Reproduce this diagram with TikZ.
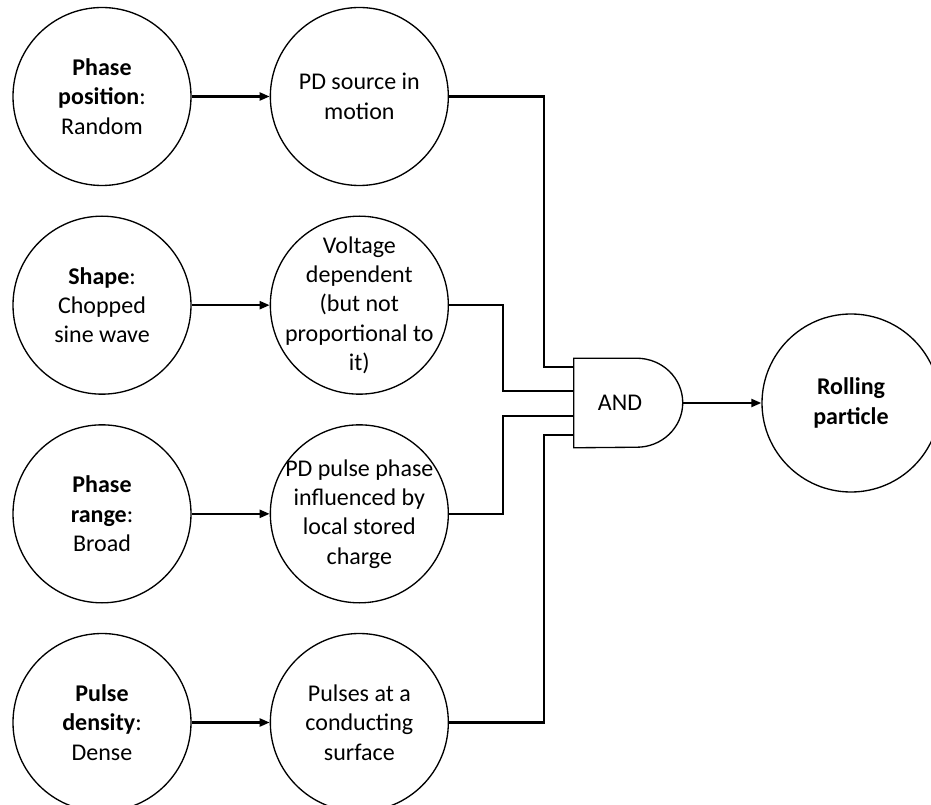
\documentclass[tikz,border=0pt]{standalone}
\usepackage{fontspec}
\setmainfont{Carlito}
\usepackage{tikz}
\usetikzlibrary{arrows.meta,positioning}
\tikzset{
    %Define standard arrow tip
    >={Triangle[length=7.5pt,width=6pt]},
    %Define style for circles
    feature/.style={
           circle,
           draw=black, line width=1pt,
           minimum size=133.5pt,
           inner sep=-20pt,
           align=center,
           font=\fontsize{18}{22}\selectfont},
    %Define style for the gate
    gatebody/.style={
           rectangle,
           minimum width=69pt,
           minimum height=66.75pt,
           inner sep=0pt,
           font=\fontsize{18}{22}\selectfont},
    gateline/.style={
           draw=black, line width=1pt},
    % Define connector styles
    wire/.style={
           line width=1.6pt},
    pil/.style={
           ->,
           line width=1.6pt}
}

\begin{document}
\begin{tikzpicture}[x=0.75pt,y=-0.75pt,node distance=22pt and 58.5pt]
\useasboundingbox (0,0) rectangle (931,805);
 %nodes
\node[feature](1) at (102,96.5){\textbf{Phase}\\\textbf{position}:\\Random};
\node[feature, below=of 1](2){\textbf{Shape}:\\Chopped\\sine wave};
\node[feature, below=of 2](3){\textbf{Phase}\\\textbf{range}:\\Broad};
\node[feature, below=of 3](4){\textbf{Pulse}\\\textbf{density}:\\Dense};
\node[feature, right=of 1](5){PD source in\\motion};
\node[feature, right=of 2](6){Voltage\\dependent\\(but not\\proportional to\\it)};
\node[feature, right=of 3](7){PD pulse phase\\influenced by\\local stored\\charge};
\node[feature, right=of 4](8){Pulses at a\\conducting\\surface};
\node[gatebody](and) at (620,403){AND};
\node[feature](9) at (851,403){\textbf{Rolling}\\\textbf{particle}};
 %gate
\draw[gateline] (and.north west) -- ++(47.25pt,0)
   arc[start angle=90, end angle=-90, x radius=34.5pt, y radius=33.375pt]
   -- (and.south west) -- cycle;
\coordinate (in1) at ([yshift=27pt]and.west);
\coordinate (in2) at ([yshift=9pt]and.west);
\coordinate (in3) at ([yshift=-9.75pt]and.west);
\coordinate (in4) at ([yshift=-24pt]and.west);
\coordinate (out) at ([xshift=81.75pt]and.west);
 %connectors
\path[pil]
   (1) edge (5)
   (2) edge (6)
   (3) edge (7)
   (4) edge (8)
   (out) edge (9);
\draw[wire] (5.east) -| ([xshift=-22.5pt]in1) -- (in1);
\draw[wire] (6.east) -| ([xshift=-53.25pt]in2) -- (in2);
\draw[wire] (7.east) -| ([xshift=-53.25pt]in3) -- (in3);
\draw[wire] (8.east) -| ([xshift=-22.5pt]in4) -- (in4);
\end{tikzpicture}
\end{document}
